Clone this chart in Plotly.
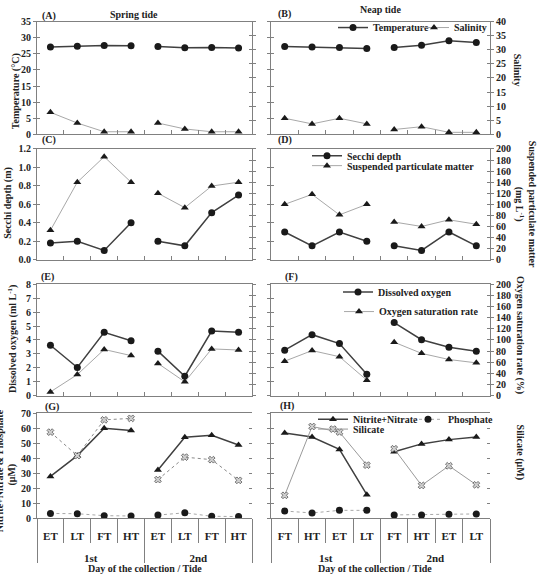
import plotly.graph_objects as go

W, H = 537, 582
FONT = "Liberation Serif"

groups = ["1st", "2nd"]
cats_spring = ["ET", "LT", "FT", "HT"]
cats_neap = ["FT", "HT", "ET", "LT"]

# (A) / (B) Temperature (degC) and Salinity
temp_spring = [27.1, 27.4, 27.6, 27.5, 27.3, 26.9, 27.0, 26.8]
sal_spring = [7.8, 4.0, 0.9, 0.9, 4.0, 1.9, 0.9, 0.9]
temp_neap = [27.3, 27.1, 27.0, 26.7, 27.0, 27.7, 29.1, 28.5]
sal_neap = [5.7, 3.7, 5.7, 3.7, 1.7, 2.7, 0.7, 0.7]
# (C) / (D) Secchi depth (m) and SPM (mg/L)
secchi_spring = [0.18, 0.20, 0.10, 0.40, 0.20, 0.15, 0.51, 0.70]
spm_spring = [53, 140, 186, 140, 120, 94, 133, 140]
secchi_neap = [0.30, 0.15, 0.30, 0.20, 0.15, 0.10, 0.30, 0.15]
spm_neap = [100, 118, 81, 100, 68, 60, 72, 64]
# (E) / (F) Dissolved oxygen (ml/L) and oxygen saturation rate (%)
do_spring = [3.62, 2.03, 4.55, 3.94, 3.20, 1.40, 4.64, 4.55]
osr_spring = [7, 38, 83, 72, 58, 25, 84, 82]
do_neap = [3.27, 4.38, 3.74, 1.54, 5.25, 4.02, 3.48, 3.20]
osr_neap = [62, 81, 70, 28, 96, 76, 65, 59]
# (G) / (H) Nutrients (uM)
nn_spring = [27.9, 41.8, 60.1, 58.6, 32.2, 54.1, 55.4, 48.9]
sil_spring = [57.5, 41.8, 65.7, 66.7, 25.8, 40.8, 39.1, 25.3]
pho_spring = [3.2, 3.0, 1.7, 1.5, 2.1, 3.6, 1.3, 1.1]
nn_neap = [113.8, 108.5, 91.9, 31.5, 88.8, 99.3, 105.0, 108.5]
sil_neap = [30.6, 122.5, 115.1, 70.9, 92.8, 43.8, 70.0, 44.6]
pho_neap = [9.6, 7.0, 10.5, 10.5, 4.4, 4.4, 5.3, 5.7]

DARK = "#404040"
LIGHT = "#a8a8a8"
MK = "#1a1a1a"
AX = "#808080"
TXT = "#222222"

N = 2 * len(cats_spring)          # categories per panel
XR = [-0.5, N - 0.5]              # category index range

fig = go.Figure()

def tf(size=10):
    return dict(family=FONT, size=size, color=TXT, weight="bold")

def add_series(panel, values, cats, yref, name, color, width, dash, symbol,
               msize=7, mcolor=MK, mline=None, legend=None):
    for g in range(2):
        kw = {}
        if legend is not None:
            kw["legend"] = legend
        fig.add_trace(go.Scatter(
            x=[[groups[g]] * 4, cats],
            y=values[4 * g:4 * g + 4],
            xaxis=f"x{panel}", yaxis=yref,
            mode="lines+markers", name=name,
            line=dict(color=color, width=width, dash=dash),
            marker=dict(symbol=symbol, size=msize, color=mcolor,
                        line=mline if mline else dict(width=0)),
            showlegend=(legend is not None and g == 0),
            hoverinfo="skip", **kw))

def dummy(xref, yref):
    fig.add_trace(go.Scatter(x=[], y=[], xaxis=xref, yaxis=yref,
                             mode="markers", showlegend=False,
                             hoverinfo="skip"))

cols = [(37, 252), (271, 490)]
rows = [(16, 131), (146, 259), (284, 398), (416, 523)]

def xd(a, b):
    return [a / W, b / W]

def yd(top, bottom):
    return [1 - bottom / H, 1 - top / H]

left_ranges = [(35, 5), (1.2, 0.2), (8, 1), (70, 10)]
right_ranges = [(40, 5), (200, 20), (200, 20), (140, 20)]
right_left_ranges = [(35, 5), (1.2, 0.2), (8, 1), (140, 20)]

layout = dict(
    width=W, height=H, margin=dict(l=0, r=0, t=0, b=0),
    paper_bgcolor="white", plot_bgcolor="white",
    font=tf(), showlegend=True,
)

for i in range(1, 9):
    r = (i - 1) // 2
    c = (i - 1) % 2
    bottom = (r == 3)
    xa = dict(domain=xd(*cols[c]), anchor=f"y{i}", type="multicategory",
              range=XR, showline=True, linecolor=AX, linewidth=1,
              mirror=True, showgrid=False, zeroline=False,
              tickson="boundaries", tickcolor=AX, showticklabels=False,
              showdividers=False)
    if bottom:
        xa.update(ticks="")
    else:
        xa.update(ticks="inside", ticklen=4)
    layout[f"xaxis{i}"] = xa
    lr = left_ranges[r] if c == 0 else right_left_ranges[r]
    rr = right_ranges[r]
    common = dict(anchor=f"x{i}", tick0=0, tickcolor=AX, showgrid=False,
                  zeroline=False, tickfont=tf(10))
    ya = dict(domain=yd(*rows[r]), range=[0, lr[0]], dtick=lr[1],
              ticks="outside", ticklen=3, showline=True, linecolor=AX,
              linewidth=1, showticklabels=(c == 0), **common)
    if r == 1:
        ya["tickformat"] = ".1f"
    layout[f"yaxis{i}"] = ya
    layout[f"yaxis{i + 8}"] = dict(
        overlaying=f"y{i}", side="right", range=[0, rr[0]], dtick=rr[1],
        ticks="outside", ticklen=3, showline=True, linecolor=AX, linewidth=1,
        showticklabels=(c == 1), **common)
    # inner halves of the crossing tick marks
    layout[f"yaxis{i + 16}"] = dict(
        overlaying=f"y{i}", side="left", range=[0, lr[0]], dtick=lr[1],
        ticks="inside", ticklen=3, showline=False, showticklabels=False,
        **common)
    layout[f"yaxis{i + 24}"] = dict(
        overlaying=f"y{i}", side="right", range=[0, rr[0]], dtick=rr[1],
        ticks="inside", ticklen=3, showline=False, showticklabels=False,
        **common)
    dummy(f"x{i}", f"y{i + 16}")
    dummy(f"x{i}", f"y{i + 24}")

# bottom category axes: tide labels, day labels and their separators
centers = list(range(N))
bounds = [k - 0.5 for k in range(N + 1)]
gcent = [(len(cats_spring) - 1) / 2 + g * len(cats_spring) for g in range(2)]
gbounds = [-0.5, len(cats_spring) - 0.5, N - 0.5]

k = 9
for base in (7, 8):
    c = (base - 1) % 2
    cats = cats_spring if c == 0 else cats_neap
    over = dict(overlaying=f"x{base}", anchor=f"y{base}", type="linear",
                range=XR, showline=False, showgrid=False, zeroline=False,
                tickcolor=AX)
    # tide labels
    layout[f"xaxis{k}"] = dict(over, tickmode="array", tickvals=centers,
                               ticktext=cats * 2, ticks="",
                               ticklabelstandoff=10, tickfont=tf(11))
    dummy(f"x{k}", f"y{base}")
    # separators between tides
    layout[f"xaxis{k + 1}"] = dict(over, tickmode="array", tickvals=bounds,
                                   ticks="outside", ticklen=24,
                                   showticklabels=False)
    dummy(f"x{k + 1}", f"y{base}")
    # day labels
    layout[f"xaxis{k + 2}"] = dict(over, tickmode="array", tickvals=gcent,
                                   ticktext=groups, ticks="",
                                   ticklabelstandoff=32, tickfont=tf(11))
    dummy(f"x{k + 2}", f"y{base}")
    # separators between days
    layout[f"xaxis{k + 3}"] = dict(over, tickmode="array", tickvals=gbounds,
                                   ticks="outside", ticklen=44,
                                   showticklabels=False)
    dummy(f"x{k + 3}", f"y{base}")
    k += 4

SILM = dict(width=0.8, color="#555555")
# (A)
add_series(1, temp_spring, cats_spring, "y1", "Temperature", DARK, 1.5, "solid", "circle")
add_series(1, sal_spring, cats_spring, "y9", "Salinity", LIGHT, 1, "solid", "triangle-up")
# (B)
add_series(2, temp_neap, cats_neap, "y2", "Temperature", DARK, 1.5, "solid", "circle", legend="legend")
add_series(2, sal_neap, cats_neap, "y10", "Salinity", LIGHT, 1, "solid", "triangle-up", legend="legend8")
# (C)
add_series(3, secchi_spring, cats_spring, "y3", "Secchi depth", DARK, 1.5, "solid", "circle")
add_series(3, spm_spring, cats_spring, "y11", "Suspended particulate matter", LIGHT, 1, "solid", "triangle-up")
# (D)
add_series(4, secchi_neap, cats_neap, "y4", "Secchi depth", DARK, 1.5, "solid", "circle", legend="legend2")
add_series(4, spm_neap, cats_neap, "y12", "Suspended particulate matter", LIGHT, 1, "solid", "triangle-up", legend="legend3")
# (E)
add_series(5, do_spring, cats_spring, "y5", "Dissolved oxygen", DARK, 1.5, "solid", "circle")
add_series(5, osr_spring, cats_spring, "y13", "Oxygen saturation rate", LIGHT, 1, "solid", "triangle-up")
# (F)
add_series(6, do_neap, cats_neap, "y6", "Dissolved oxygen", DARK, 1.5, "solid", "circle", legend="legend4")
add_series(6, osr_neap, cats_neap, "y14", "Oxygen saturation rate", LIGHT, 1, "solid", "triangle-up", legend="legend5")
# (G)
add_series(7, nn_spring, cats_spring, "y7", "Nitrite+Nitrate", DARK, 1.5, "solid", "triangle-up")
add_series(7, sil_spring, cats_spring, "y7", "Silicate", "#8a8a8a", 1, "dot", "x", 6, "#d0d0d0", SILM)
add_series(7, pho_spring, cats_spring, "y7", "Phosphate", LIGHT, 1, "dot", "circle")
# (H)
add_series(8, nn_neap, cats_neap, "y8", "Nitrite+Nitrate", DARK, 1.5, "solid", "triangle-up", legend="legend6")
add_series(8, pho_neap, cats_neap, "y8", "Phosphate", LIGHT, 1, "dot", "circle", legend="legend9")
add_series(8, sil_neap, cats_neap, "y8", "Silicate", "#9a9a9a", 1, "solid", "x", 6, "#d0d0d0", SILM, legend="legend7")

# legend x is chosen so that the entry text starts ~39 px to its right
def leg(text_start, y):
    return dict(x=(text_start - 39) / W, y=1 - y / H, xanchor="left",
                yanchor="middle", orientation="v", bgcolor="rgba(0,0,0,0)",
                borderwidth=0, font=tf(10), itemwidth=30, tracegroupgap=0,
                itemclick=False, itemdoubleclick=False)

layout["legend"] = leg(372, 22)    # Temperature
layout["legend8"] = leg(453, 22)   # Salinity
layout["legend2"] = leg(346, 153)  # Secchi depth
layout["legend3"] = leg(346, 163)  # SPM
layout["legend4"] = leg(377, 292)  # Dissolved oxygen
layout["legend5"] = leg(378, 312)  # Oxygen saturation rate
layout["legend6"] = leg(352, 422)  # Nitrite+Nitrate
layout["legend9"] = leg(447, 422)  # Phosphate
layout["legend7"] = leg(352, 432)  # Silicate

fig.update_layout(**layout)

def ann(text, x, y, xanchor="center", angle=0):
    fig.add_annotation(text=text, x=x / W, y=1 - y / H, xref="paper",
                       yref="paper", xanchor=xanchor, yanchor="middle",
                       showarrow=False, textangle=angle, font=tf(10))

# panel labels and titles
ann("(A)", 40, 10, "left")
ann("Spring tide", 134, 9)
ann("(B)", 276, 8, "left")
ann("Neap tide", 380, 4)
ann("(C)", 40, 137, "left")
ann("(D)", 276, 137, "left")
ann("(E)", 39, 277, "left")
ann("(F)", 283, 277, "left")
ann("(G)", 43, 409, "left")
ann("(H)", 278, 408, "left")

# axis titles
ann("Temperature (°C)", 16, 87, angle=-90)
ann("Secchi depth (m)", 8, 201, angle=-90)
ann("Dissolved oxygen (ml L<sup>-1</sup>)", 13, 340, angle=-90)
ann("Nitrite+Nitrate &amp; Phosphate", -1, 475, angle=-90)
ann("(μM)", 12.5, 479, angle=-90)
ann("Salinity", 517, 65, angle=90)
ann("Suspended particulate matter<br>(mg L<sup>-1</sup>)", 525, 202, angle=90)
ann("Oxygen saturation rate (%)", 520, 336, angle=90)
ann("Silicate (μM)", 520, 455, angle=90)
ann("Day of the collection / Tide", 144.5, 574)
ann("Day of the collection / Tide", 375, 574)

fig.write_html("out.html")
